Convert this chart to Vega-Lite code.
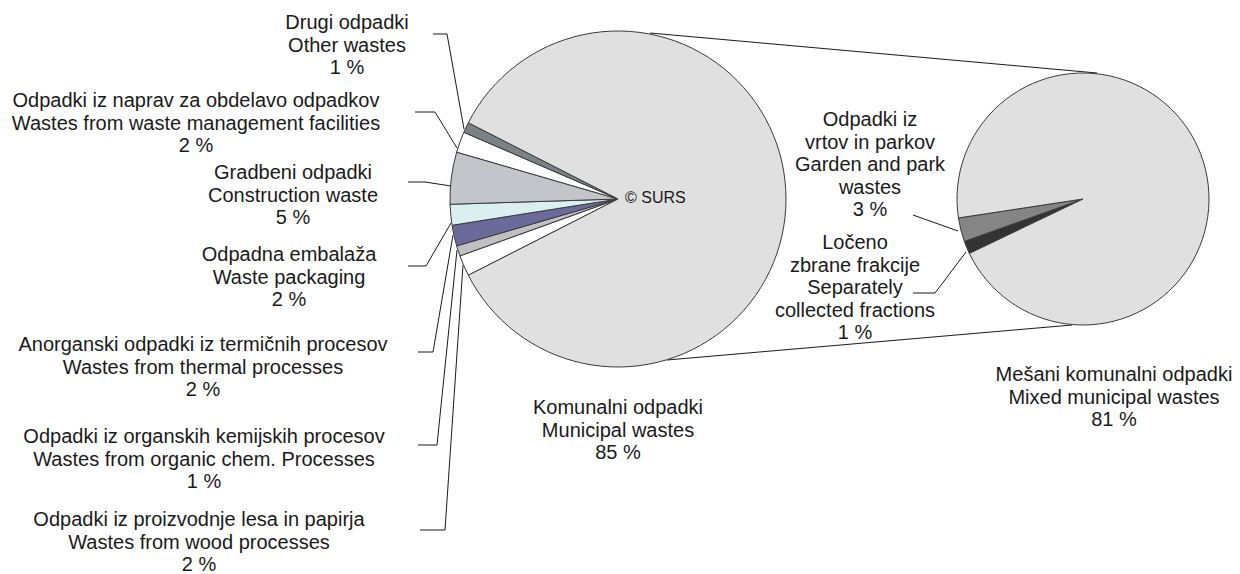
{
  "$schema": "https://vega.github.io/schema/vega-lite/v6.json",
  "width": 1240,
  "height": 574,
  "padding": 0,
  "autosize": {"type": "none"},
  "background": "#ffffff",
  "config": {"view": {"stroke": null}, "font": "Liberation Sans"},
  "datasets": {
    "main": [
      {"name": "Odpadki iz proizvodnje lesa in papirja", "value": 2, "ord": 1},
      {"name": "Odpadki iz organskih kemijskih procesov", "value": 1, "ord": 2},
      {"name": "Anorganski odpadki iz termičnih procesov", "value": 2, "ord": 3},
      {"name": "Odpadna embalaža", "value": 2, "ord": 4},
      {"name": "Gradbeni odpadki", "value": 5, "ord": 5},
      {"name": "Odpadki iz naprav za obdelavo odpadkov", "value": 2, "ord": 6},
      {"name": "Drugi odpadki", "value": 1, "ord": 7},
      {"name": "Komunalni odpadki", "value": 85, "ord": 8}
    ],
    "sub": [
      {"name": "Ločeno zbrane frakcije", "value": 1.4, "ord": 1},
      {"name": "Odpadki iz vrtov in parkov", "value": 2.6, "ord": 2},
      {"name": "Mešani komunalni odpadki", "value": 81, "ord": 3}
    ],
    "labels": [
      {"text": "Drugi odpadki\nOther wastes\n1 %", "lx": 347, "ly": 23},
      {"text": "Odpadki iz naprav za obdelavo odpadkov\nWastes from waste management facilities\n2 %", "lx": 196, "ly": 101},
      {"text": "Gradbeni odpadki\nConstruction waste\n5 %", "lx": 293, "ly": 173},
      {"text": "Odpadna embalaža\nWaste packaging\n2 %", "lx": 289, "ly": 255},
      {"text": "Anorganski odpadki iz termičnih procesov\nWastes from thermal processes\n2 %", "lx": 203, "ly": 345},
      {"text": "Odpadki iz organskih kemijskih procesov\nWastes from organic chem. Processes\n1 %", "lx": 204, "ly": 437},
      {"text": "Odpadki iz proizvodnje lesa in papirja\nWastes from wood processes\n2 %", "lx": 199, "ly": 520},
      {"text": "Komunalni odpadki\nMunicipal wastes\n85 %", "lx": 618, "ly": 408},
      {"text": "Mešani komunalni odpadki\nMixed municipal wastes\n81 %", "lx": 1114, "ly": 375},
      {"text": "Odpadki iz\nvrtov in parkov\nGarden and park\nwastes\n3 %", "lx": 870, "ly": 120},
      {"text": "Ločeno\nzbrane frakcije\nSeparately\ncollected fractions\n1 %", "lx": 855, "ly": 243}
    ],
    "lines": [
      {"id": "a", "pt": 1, "lx": 433, "ly": 34},
      {"id": "a", "pt": 2, "lx": 447, "ly": 34},
      {"id": "a", "pt": 3, "lx": 464, "ly": 129},
      {"id": "b", "pt": 1, "lx": 415, "ly": 112},
      {"id": "b", "pt": 2, "lx": 435, "ly": 112},
      {"id": "b", "pt": 3, "lx": 457, "ly": 148},
      {"id": "c", "pt": 1, "lx": 408, "ly": 182},
      {"id": "c", "pt": 2, "lx": 425, "ly": 182},
      {"id": "c", "pt": 3, "lx": 451, "ly": 186},
      {"id": "d", "pt": 1, "lx": 408, "ly": 266},
      {"id": "d", "pt": 2, "lx": 426, "ly": 266},
      {"id": "d", "pt": 3, "lx": 451, "ly": 223},
      {"id": "e", "pt": 1, "lx": 418, "ly": 352},
      {"id": "e", "pt": 2, "lx": 433, "ly": 352},
      {"id": "e", "pt": 3, "lx": 453, "ly": 235},
      {"id": "f", "pt": 1, "lx": 418, "ly": 445},
      {"id": "f", "pt": 2, "lx": 437, "ly": 445},
      {"id": "f", "pt": 3, "lx": 457, "ly": 250},
      {"id": "g", "pt": 1, "lx": 420, "ly": 530},
      {"id": "g", "pt": 2, "lx": 445, "ly": 530},
      {"id": "g", "pt": 3, "lx": 463, "ly": 265},
      {"id": "h", "pt": 1, "lx": 913, "ly": 215},
      {"id": "h", "pt": 2, "lx": 958, "ly": 231},
      {"id": "i", "pt": 1, "lx": 913, "ly": 293},
      {"id": "i", "pt": 2, "lx": 935, "ly": 293},
      {"id": "i", "pt": 3, "lx": 966, "ly": 252},
      {"id": "top", "pt": 1, "lx": 650, "ly": 33},
      {"id": "top", "pt": 2, "lx": 1097, "ly": 73},
      {"id": "bot", "pt": 1, "lx": 667, "ly": 360},
      {"id": "bot", "pt": 2, "lx": 1072, "ly": 325}
    ]
  },
  "layer": [
    {
      "data": {"name": "lines"},
      "mark": {"type": "line", "stroke": "#1a1a1a", "strokeWidth": 1, "interpolate": "linear"},
      "encoding": {
        "x": {"field": "lx", "type": "quantitative", "scale": {"domain": [0, 1240], "nice": false, "zero": false}, "axis": null},
        "y": {"field": "ly", "type": "quantitative", "scale": {"domain": [0, 574], "nice": false, "zero": false, "reverse": true}, "axis": null},
        "detail": {"field": "id"},
        "order": {"field": "pt"}
      }
    },
    {
      "data": {"name": "main"},
      "mark": {"type": "arc", "radius": 168, "stroke": "#3a3a3a", "strokeWidth": 1},
      "encoding": {
        "x": {"datum": 618, "type": "quantitative", "scale": {"domain": [0, 1240], "nice": false, "zero": false}, "axis": null},
        "y": {"datum": 199, "type": "quantitative", "scale": {"domain": [0, 574], "nice": false, "zero": false, "reverse": true}, "axis": null},
        "theta": {"field": "value", "type": "quantitative", "stack": true, "scale": {"range": [4.2412, 10.5244]}},
        "order": {"field": "ord"},
        "color": {
          "field": "name", "type": "nominal", "legend": null,
          "scale": {
            "domain": ["Odpadki iz proizvodnje lesa in papirja", "Odpadki iz organskih kemijskih procesov", "Anorganski odpadki iz termičnih procesov", "Odpadna embalaža", "Gradbeni odpadki", "Odpadki iz naprav za obdelavo odpadkov", "Drugi odpadki", "Komunalni odpadki"],
            "range": ["#ffffff", "#c0c0c4", "#6b6b9b", "#dbeef0", "#c3c5ca", "#ffffff", "#7b8285", "#e0e0e0"]
          }
        }
      }
    },
    {
      "data": {"name": "sub"},
      "mark": {"type": "arc", "radius": 126, "stroke": "#3a3a3a", "strokeWidth": 1},
      "encoding": {
        "x": {"datum": 1083, "type": "quantitative", "scale": {"domain": [0, 1240], "nice": false, "zero": false}, "axis": null},
        "y": {"datum": 199, "type": "quantitative", "scale": {"domain": [0, 574], "nice": false, "zero": false, "reverse": true}, "axis": null},
        "theta": {"field": "value", "type": "quantitative", "stack": true, "scale": {"range": [4.2656, 10.5488]}},
        "order": {"field": "ord"},
        "fill": {
          "field": "name", "type": "nominal", "legend": null,
          "scale": {
            "domain": ["Ločeno zbrane frakcije", "Odpadki iz vrtov in parkov", "Mešani komunalni odpadki"],
            "range": ["#333333", "#858585", "#e0e0e0"]
          }
        }
      }
    },
    {
      "data": {"name": "labels"},
      "mark": {"type": "text", "fontSize": 20, "lineHeight": 22.5, "lineBreak": "\n", "align": "center", "baseline": "middle", "fill": "#1a1a1a", "font": "Liberation Sans"},
      "encoding": {
        "x": {"field": "lx", "type": "quantitative", "scale": {"domain": [0, 1240], "nice": false, "zero": false}, "axis": null},
        "y": {"field": "ly", "type": "quantitative", "scale": {"domain": [0, 574], "nice": false, "zero": false, "reverse": true}, "axis": null},
        "text": {"field": "text"}
      }
    },
    {
      "data": {"values": [{"t": "© SURS"}]},
      "mark": {"type": "text", "fontSize": 16, "align": "left", "baseline": "middle", "fill": "#1a1a1a", "font": "Liberation Sans"},
      "encoding": {
        "x": {"datum": 625, "type": "quantitative", "scale": {"domain": [0, 1240], "nice": false, "zero": false}, "axis": null},
        "y": {"datum": 198, "type": "quantitative", "scale": {"domain": [0, 574], "nice": false, "zero": false, "reverse": true}, "axis": null},
        "text": {"field": "t"}
      }
    }
  ],
  "resolve": {"scale": {"theta": "independent", "color": "independent", "fill": "independent"}}
}
